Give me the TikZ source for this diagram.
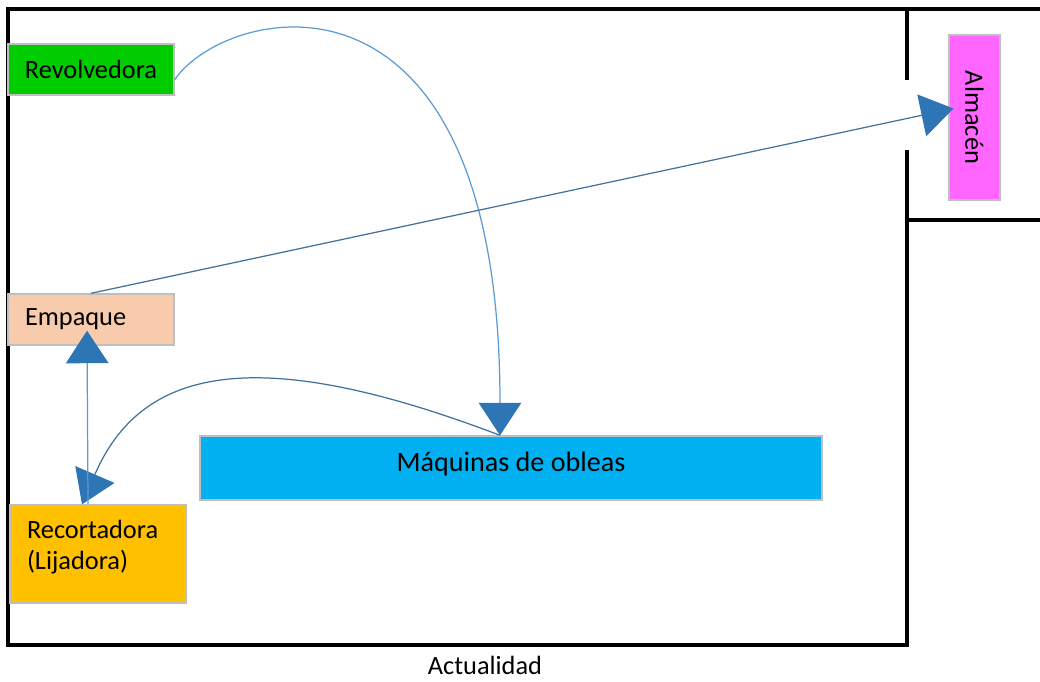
\documentclass[tikz,border=0pt]{standalone}
\usepackage{fontspec}
\setmainfont{Carlito}
\usetikzlibrary{arrows.meta,calc}
\definecolor{revgreen}{HTML}{00CC00}
\definecolor{almpink}{HTML}{FF66FF}
\definecolor{emppeach}{HTML}{F8CBAD}
\definecolor{recorange}{HTML}{FFC000}
\definecolor{machcyan}{HTML}{00B0F0}
\definecolor{lightflow}{HTML}{5B9BD5}
\definecolor{darkflow}{HTML}{41719C}
\definecolor{tipblue}{HTML}{2E75B6}

\begin{document}
\begin{tikzpicture}
  [x=0.02cm, y=-0.02cm,
   every node/.style={draw=black!25, line width=0.8pt, inner sep=0pt, font=\fontsize{15}{18}\selectfont},
   wall/.style={line width=1.8pt},
   flow/.style={line width=0.7pt, -{Triangle[length=6.5mm, width=8.5mm, color=tipblue]}},
   smallbox/.style={minimum width=3.32cm, minimum height=1.02cm}]

  \useasboundingbox (0,0) rectangle (1040,681);

  \draw[wall] (907,80) -- (907,9) -- (8,9) -- (8,645) -- (907,645) -- (907,150);
  \draw[wall] (907,9) -- (1040,9);
  \draw[wall] (907,220) -- (1040,220);

  \node[smallbox, fill=revgreen] (rev) at (91,69.5) {Revolvedora};
  \node[smallbox, fill=emppeach, text width=2.64cm, align=left] (emp) at (91,319.5) {Empaque};
  \node[fill=recorange, minimum width=3.52cm, minimum height=1.96cm, text width=2.84cm, align=left, text depth=1.0cm] (rec) at (98,554) {Recortadora\\(Lijadora)};
  \node[fill=machcyan, minimum width=12.44cm, minimum height=1.28cm, font=\fontsize{16}{19}\selectfont, text depth=0.26cm] (mach) at (511,468) {Máquinas de obleas};
  \node[fill=almpink, rotate=-90, minimum width=3.3cm, minimum height=1.02cm] (alm) at (974.5,117.5) {Almacén};
  \node[draw=none] (cap) at (485,665) {Actualidad};

  \draw[flow, lightflow] (rev.-7) .. controls (225,5) and (500,-60) .. ($(mach.north)+(-11,0)$);
  \draw[flow, darkflow] (emp.north) -- ($(alm.center)+(-21,-9)$);
  \draw[flow, darkflow] ($(mach.north)+(-11,0)$) .. controls (250,340) and (140,370) .. ($(rec.north)+(-16,0)$);
  \draw[flow, lightflow] ($(rec.north)+(-10,0)$) -- ($(emp.south)+(-4,-15)$);
\end{tikzpicture}
\end{document}
